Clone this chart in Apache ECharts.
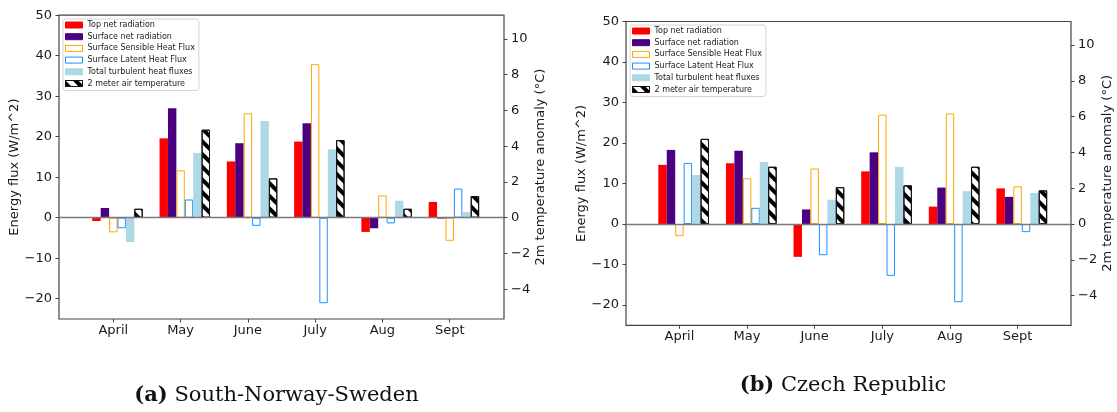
<!DOCTYPE html>
<html><head><meta charset="utf-8">
<script src="https://cdn.jsdelivr.net/npm/echarts@6/dist/echarts.min.js"></script>
<style>html,body{margin:0;padding:0;background:#fff}#c{width:1117px;height:412px}</style>
</head><body><div id="c"></div>
<script>
// ---- data ----
const months = ['April', 'May', 'June', 'July', 'Aug', 'Sept'];
const seriesNames = ['Top net radiation', 'Surface net radiation', 'Surface Sensible Heat Flux',
  'Surface Latent Heat Flux', 'Total turbulent heat fluxes', '2 meter air temperature'];
// (a) South-Norway-Sweden  (W/m^2, temperature in °C)
const snsTopNet     = [-0.8, 19.6, 13.9, 18.8, -3.5, 3.9];
const snsSurfNet    = [2.4, 27.0, 18.4, 23.3, -2.6, -0.2];
const snsSensible   = [-3.6, 11.7, 25.8, 37.9, 5.5, -5.7];
const snsLatent     = [-2.6, 4.5, -2.0, -21.1, -1.4, 7.2];
const snsTurbulent  = [-6.0, 16.0, 23.9, 16.9, 4.2, 1.4];
const snsT2m        = [0.5, 4.92, 2.2, 4.34, 0.5, 1.21];
// (b) Czech Republic
const czTopNet      = [14.6, 15.0, -8.1, 13.0, 4.3, 8.8];
const czSurfNet     = [18.3, 18.1, 3.6, 17.7, 9.0, 6.7];
const czSensible    = [-3.0, 11.3, 13.7, 27.0, 27.3, 9.3];
const czLatent      = [15.1, 4.0, -7.7, -12.8, -19.3, -2.0];
const czTurbulent   = [12.1, 15.3, 6.0, 14.1, 8.1, 7.65];
const czT2m         = [4.76, 3.2, 2.06, 2.16, 3.2, 1.88];
const fluxTicks = [-20, -10, 0, 10, 20, 30, 40, 50];
const tempTicks = [-4, -2, 0, 2, 4, 6, 8, 10];
const captionLabels = ['(a)', '(b)'];
const captions = ['South-Norway-Sweden', 'Czech Republic'];

// ---- styling / layout ----
const FONT = 'DejaVu Sans';
const frame = '#444';
const txt = '#1a1a1a';
const minus = v => String(v).replace('-', '\u2212');
const panels = [
  { data: [snsTopNet, snsSurfNet, snsSensible, snsLatent, snsTurbulent, snsT2m],
    grid: { left: 59, top: 15.2, width: 445, height: 303.8 }, xPad: 0.807,
    legend: { left: 63, top: 19 }, caption: { left: 276.5, top: 385 } },
  { data: [czTopNet, czSurfNet, czSensible, czLatent, czTurbulent, czT2m],
    grid: { left: 626, top: 21.5, width: 445, height: 303.8 }, xPad: 0.79,
    legend: { left: 630, top: 25 }, caption: { left: 843, top: 375 } }
];
const styles = [
  { color: '#ff0000', borderColor: '#ff0000', borderWidth: 0 },
  { color: '#4b0082', borderColor: '#4b0082', borderWidth: 0 },
  { color: '#ffffff', borderColor: '#ffa500', borderWidth: 1 },
  { color: '#ffffff', borderColor: '#1e90ff', borderWidth: 1 },
  { color: '#add8e6', borderColor: '#add8e6', borderWidth: 0 },
  { color: '#ffffff', borderColor: '#111', borderWidth: 1,
    decal: { symbol: 'rect', symbolSize: 1, dashArrayX: [1, 0], dashArrayY: [4, 5],
             rotation: Math.PI / 4, color: '#000' } }
];
const idx = months.map((m, i) => i);

const grids = [], xAxes = [], yAxes = [], series = [], legends = [], titles = [];
panels.forEach((p, k) => {
  grids.push(Object.assign({ show: true, borderColor: frame, borderWidth: 1.2, backgroundColor: '#fff', containLabel: false }, p.grid));
  xAxes.push({
    gridIndex: k, type: 'value', position: 'bottom', min: -p.xPad, max: months.length - 1 + p.xPad,
    axisLine: { show: false, onZero: false }, splitLine: { show: false },
    axisTick: { customValues: idx, length: 3.5, lineStyle: { color: frame, width: 1 } },
    axisLabel: { customValues: idx, formatter: v => months[Math.round(v)], margin: 5,
                 fontSize: 13, fontFamily: FONT, color: txt }
  });
  const yCommon = {
    gridIndex: k, type: 'value', splitLine: { show: false }, axisLine: { show: false, onZero: false },
    nameLocation: 'middle', nameRotate: 90,
    nameTextStyle: { fontSize: 13, fontFamily: FONT, color: txt }
  };
  yAxes.push(Object.assign({}, yCommon, {
    position: 'left', min: -25, max: 50, name: 'Energy flux (W/m^2)', nameGap: 37,
    axisTick: { customValues: fluxTicks, length: 3.5, lineStyle: { color: frame } },
    axisLabel: { customValues: fluxTicks, formatter: minus, margin: 7, fontSize: 13, fontFamily: FONT, color: txt }
  }));
  yAxes.push(Object.assign({}, yCommon, {
    position: 'right', min: -5.66, max: 11.32, name: '2m temperature anomaly (°C)', nameGap: 26,
    axisTick: { customValues: tempTicks, length: 3.5, lineStyle: { color: frame } },
    axisLabel: { customValues: tempTicks, formatter: minus, margin: 7, fontSize: 13, fontFamily: FONT, color: txt }
  }));
  // leading empty slot so that the group sits like the original (sensible flux bar on the tick)
  series.push({ type: 'bar', name: '_slot', data: [], xAxisIndex: k, yAxisIndex: 2 * k,
                barWidth: '12.5%', barGap: '0%' });
  seriesNames.forEach((name, s) => {
    const isTemp = s === seriesNames.length - 1;
    const ser = {
      type: 'bar', name, xAxisIndex: k, yAxisIndex: isTemp ? 2 * k + 1 : 2 * k,
      barWidth: '12.5%', barGap: '0%', silent: true,
      itemStyle: styles[s],
      data: p.data[s].map((v, i) => [i, v])
    };
    if (s === 0) {
      ser.markLine = { silent: true, symbol: 'none', label: { show: false },
        lineStyle: { color: '#7a7a7a', width: 1.3, type: 'solid' },
        data: [{ yAxis: 0 }] };
    }
    series.push(ser);
  });
  legends.push(Object.assign({
    orient: 'vertical', itemWidth: 17, itemHeight: 6, itemGap: 3.7, padding: [2, 4, 3, 2],
    borderColor: '#d4d4d4', borderWidth: 1, borderRadius: 3, backgroundColor: 'rgba(255,255,255,0.85)',
    selectedMode: false, icon: 'rect', itemStyle: { borderWidth: 1 },
    textStyle: { fontSize: 8, lineHeight: 8, fontFamily: FONT, color: txt },
    data: seriesNames
  }, p.legend));
  titles.push(Object.assign({
    text: '{b|' + captionLabels[k] + '} ' + captions[k], textAlign: 'center', padding: 0,
    textStyle: { fontSize: 21, fontFamily: 'DejaVu Serif', fontWeight: 'normal', color: '#111',
      rich: { b: { fontSize: 21, fontFamily: 'DejaVu Serif', fontWeight: 'bold', color: '#111' } } }
  }, p.caption));
});

const chart = echarts.init(document.getElementById('c'), null, { renderer: 'canvas' });
chart.setOption({
  animation: false,
  backgroundColor: '#fff',
  title: titles, grid: grids, xAxis: xAxes, yAxis: yAxes, legend: legends, series
});
</script></body></html>
